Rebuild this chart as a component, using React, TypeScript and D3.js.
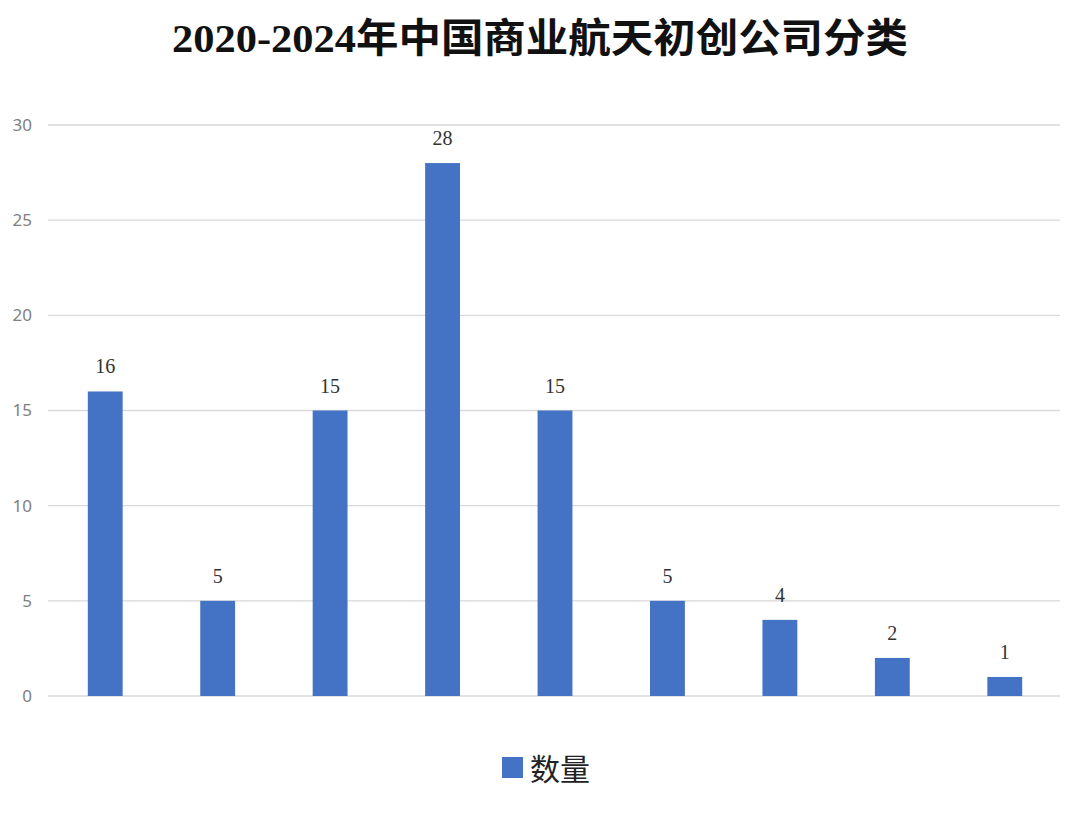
import React from "react";
import * as d3 from "d3";

const categories = ["A", "B", "C", "D", "E", "F", "G", "H", "I"];
const values = [16, 5, 15, 28, 15, 5, 4, 2, 1];
const yTicks = [0, 5, 10, 15, 20, 25, 30];
const title = "2020-2024年中国商业航天初创公司分类";
const seriesName = "数量";

export default function App() {
  const W = 1080, H = 827;
  const left = 49, right = 1061, top = 125, bottom = 696;
  const x = d3.scaleBand<string>().domain(categories).range([left, right]).paddingInner(0.69).paddingOuter(0.345);
  const y = d3.scaleLinear().domain([0, 30]).range([bottom, top]);
  const bw = x.bandwidth();
  return (
    <svg width={W} height={H} style={{ position: "absolute", left: 0, top: 0, background: "#fff" }}>
      <rect width={W} height={H} fill="#fff" />
      <text x={540} y={52} textAnchor="middle" fontSize={40} fontWeight="bold"
        fontFamily="'Liberation Serif', 'Noto Sans CJK SC', serif" fill="#111"
        textLength={736} lengthAdjust="spacingAndGlyphs">{title}</text>
      {yTicks.map(t => (
        <g key={t}>
          <line x1={48} x2={1060} y1={y(t)} y2={y(t)} stroke="#d9d9d9" strokeWidth={1.3} />
          <text x={32} y={y(t)} dy="0.35em" textAnchor="end" fontSize={17} fill="#808080"
            fontFamily="'Noto Sans', sans-serif">{t}</text>
        </g>
      ))}
      {categories.map((c, i) => (
        <g key={c}>
          <rect x={x(c)!} y={y(values[i])} width={bw} height={y(0) - y(values[i])} fill="#4472C4" />
          <text x={x(c)! + bw / 2} y={y(values[i]) - 18} textAnchor="middle" fontSize={20} fill="#333"
            fontFamily="'Liberation Serif', serif">{values[i]}</text>
        </g>
      ))}
      <rect x={502} y={757} width={21} height={21} fill="#4472C4" />
      <text x={530} y={780} fontSize={30} fill="#222" fontFamily="'Noto Sans CJK SC', sans-serif">{seriesName}</text>
    </svg>
  );
}
